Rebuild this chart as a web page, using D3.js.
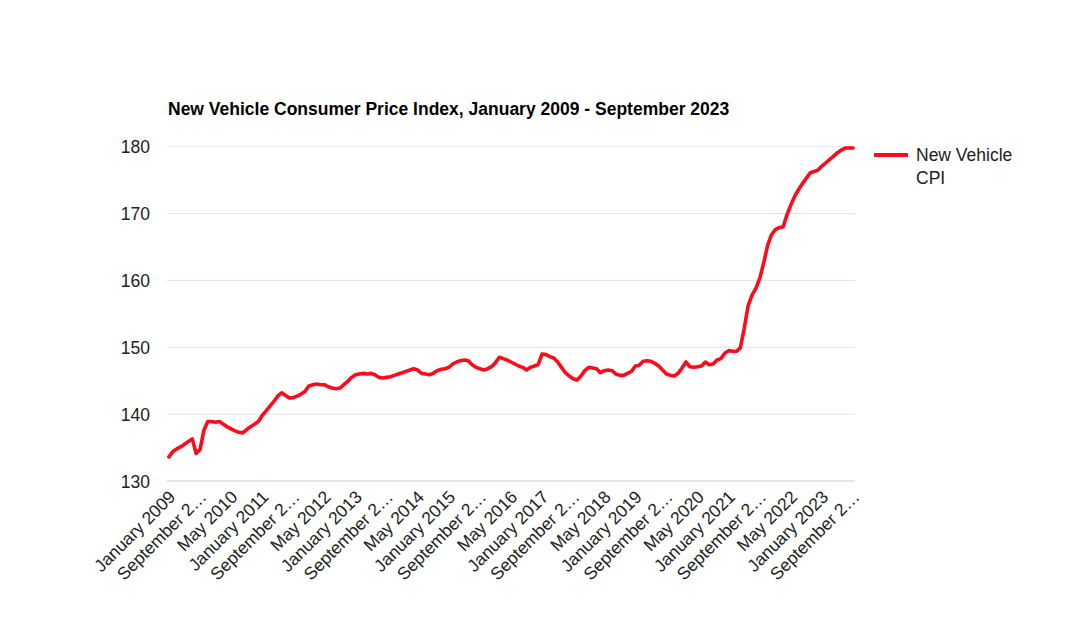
<!DOCTYPE html>
<html>
<head>
<meta charset="utf-8">
<script src="https://cdn.jsdelivr.net/npm/d3@7"></script>
<style>
  html, body { margin: 0; padding: 0; background: #ffffff; }
  svg { display: block; }
</style>
</head>
<body>
<div id="chart"></div>
<script>
// ---- Data ----
const monthNames = ["January","February","March","April","May","June","July","August","September","October","November","December"];
const startYear = 2009;
const cpiValues = [
  // 2009
  133.6, 134.4, 134.8, 135.1, 135.5, 135.9, 136.3, 134.1, 134.7, 137.6, 138.9, 138.9,
  // 2010
  138.8, 138.9, 138.5, 138.1, 137.8, 137.5, 137.3, 137.2, 137.7, 138.1, 138.5, 138.9,
  // 2011
  139.8, 140.5, 141.2, 141.9, 142.7, 143.2, 142.8, 142.4, 142.5, 142.7, 143.0, 143.4,
  // 2012
  144.2, 144.4, 144.5, 144.4, 144.4, 144.1, 143.9, 143.8, 143.9, 144.4, 144.9, 145.5,
  // 2013
  145.9, 146.0, 146.1, 146.0, 146.1, 145.9, 145.5, 145.4, 145.5, 145.6, 145.8, 146.0,
  // 2014
  146.2, 146.4, 146.6, 146.8, 146.6, 146.1, 146.0, 145.9, 146.1, 146.5, 146.7, 146.8,
  // 2015
  147.0, 147.5, 147.8, 148.0, 148.1, 148.0, 147.4, 147.0, 146.8, 146.6, 146.8, 147.1,
  // 2016
  147.7, 148.5, 148.3, 148.1, 147.8, 147.5, 147.2, 147.0, 146.6, 147.0, 147.2, 147.4,
  // 2017
  149.0, 148.9, 148.6, 148.4, 147.8, 147.0, 146.2, 145.7, 145.3, 145.1, 145.7, 146.5,
  // 2018
  147.0, 146.9, 146.8, 146.2, 146.5, 146.6, 146.5, 146.0, 145.8, 145.8, 146.1, 146.4,
  // 2019
  147.2, 147.3, 147.9, 148.0, 147.9, 147.6, 147.2, 146.6, 146.0, 145.8, 145.7, 146.1,
  // 2020
  146.9, 147.8, 147.1, 147.0, 147.1, 147.2, 147.8, 147.4, 147.5, 148.1, 148.3, 149.1,
  // 2021
  149.5, 149.4, 149.4, 149.9, 152.8, 156.2, 157.8, 158.8, 160.3, 162.6, 165.2, 166.8,
  // 2022
  167.6, 167.9, 168.0, 169.8, 171.3, 172.6, 173.6, 174.5, 175.3, 176.1, 176.3, 176.5,
  // 2023
  177.1, 177.6, 178.1, 178.6, 179.1, 179.5, 179.8, 179.8, 179.8
];
const categories = cpiValues.map((v, i) => monthNames[i % 12] + " " + (startYear + Math.floor(i / 12)));
const yTicks = [130, 140, 150, 160, 170, 180];
const xTickEvery = 8;
const seriesName = "New Vehicle CPI";
const titleText = "New Vehicle Consumer Price Index, January 2009 - September 2023";

// ---- Layout ----
const W = 1080, H = 632;
const plot = { left: 167, right: 855, top: 146.7, bottom: 481 };
const font = "Arial, 'Liberation Sans', sans-serif";

const svg = d3.select("#chart").append("svg")
  .attr("width", W).attr("height", H)
  .style("font-family", font);

const x = d3.scalePoint().domain(categories).range([plot.left, plot.right]).padding(0.5);
const y = d3.scaleLinear().domain([130, 180]).range([plot.bottom, plot.top]);

// gridlines
svg.append("g").selectAll("line").data(yTicks).join("line")
  .attr("x1", plot.left).attr("x2", plot.right)
  .attr("y1", d => y(d)).attr("y2", d => y(d))
  .attr("stroke", d => d === 130 ? "#cccccc" : "#e3e3e3")
  .attr("stroke-width", 1);

// y axis labels
const yAxis = d3.axisLeft(y).tickValues(yTicks).tickSize(0).tickPadding(0).tickFormat(d3.format("d"));
const yg = svg.append("g").attr("transform", `translate(${plot.left - 17},0)`).call(yAxis);
yg.select(".domain").remove();
yg.selectAll("text").attr("fill", "#222").style("font-size", "17.5px").style("font-family", font).attr("dy", "0.35em");

// x axis labels
function shortLabel(s) {
  return s.length > 13 ? s.slice(0, 11) + "\u2026" : s;
}
const xTickVals = categories.filter((c, i) => i % xTickEvery === 0);
const xAxis = d3.axisBottom(x).tickValues(xTickVals).tickSize(0).tickPadding(0).tickFormat(shortLabel);
const xg = svg.append("g").attr("transform", `translate(0,${plot.bottom})`).call(xAxis);
xg.select(".domain").remove();
xg.selectAll("text")
  .attr("fill", "#222").style("font-size", "17.5px").style("font-family", font)
  .attr("text-anchor", "end")
  .attr("dy", null).attr("y", 0)
  .attr("transform", "translate(7,17) rotate(-45)");

// line
const line = d3.line().x((d, i) => x(categories[i])).y(d => y(d)).curve(d3.curveLinear);
svg.append("path").datum(cpiValues)
  .attr("d", line)
  .attr("fill", "none")
  .attr("stroke", "#ff0a1a")
  .attr("stroke-width", 3.6)
  .attr("stroke-linejoin", "round")
  .attr("stroke-linecap", "round");

// title
svg.append("text")
  .attr("x", 168).attr("y", 115)
  .attr("fill", "#000")
  .style("font-weight", "bold").style("font-size", "17.5px")
  .text(titleText);

// legend
const lg = svg.append("g");
lg.append("line").attr("x1", 874).attr("x2", 908).attr("y1", 155).attr("y2", 155)
  .attr("stroke", "#ff0a1a").attr("stroke-width", 4);
const lt = lg.append("text").attr("x", 916).attr("y", 161)
  .attr("fill", "#222").style("font-size", "17.5px");
lt.append("tspan").attr("x", 916).attr("dy", 0).text("New Vehicle");
lt.append("tspan").attr("x", 916).attr("dy", 23).text("CPI");
</script>
</body>
</html>
